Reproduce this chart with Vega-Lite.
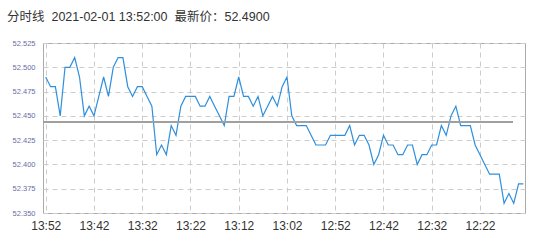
{
  "$schema": "https://vega.github.io/schema/vega-lite/v6.json",
  "width": 482,
  "height": 170,
  "autosize": {"type": "none"},
  "padding": {"left": 43, "top": 43, "right": 20, "bottom": 32},
  "background": "#ffffff",
  "title": {
    "text": "分时线\u00a0\u00a02021-02-01 13:52:00\u00a0\u00a0最新价：52.4900",
    "anchor": "start",
    "frame": "group",
    "dx": -36,
    "offset": 16,
    "fontSize": 12.5,
    "fontWeight": "normal",
    "color": "#333333",
    "font": "Liberation Sans, Noto Sans CJK SC"
  },
  "config": {
    "view": {"stroke": "#aaaaaa", "strokeWidth": 1},
    "axis": {"domain": false, "ticks": false, "grid": true, "gridColor": "#cccccc", "gridDash": [5, 4], "gridWidth": 1, "labelOverlap": false}
  },
  "data": {
    "values": [
      {"time": "2021-02-01 13:52", "price": 52.49},
      {"time": "2021-02-01 13:51", "price": 52.48},
      {"time": "2021-02-01 13:50", "price": 52.48},
      {"time": "2021-02-01 13:49", "price": 52.45},
      {"time": "2021-02-01 13:48", "price": 52.50},
      {"time": "2021-02-01 13:47", "price": 52.50},
      {"time": "2021-02-01 13:46", "price": 52.51},
      {"time": "2021-02-01 13:45", "price": 52.49},
      {"time": "2021-02-01 13:44", "price": 52.45},
      {"time": "2021-02-01 13:43", "price": 52.46},
      {"time": "2021-02-01 13:42", "price": 52.45},
      {"time": "2021-02-01 13:41", "price": 52.47},
      {"time": "2021-02-01 13:40", "price": 52.49},
      {"time": "2021-02-01 13:39", "price": 52.47},
      {"time": "2021-02-01 13:38", "price": 52.50},
      {"time": "2021-02-01 13:37", "price": 52.51},
      {"time": "2021-02-01 13:36", "price": 52.51},
      {"time": "2021-02-01 13:35", "price": 52.48},
      {"time": "2021-02-01 13:34", "price": 52.47},
      {"time": "2021-02-01 13:33", "price": 52.48},
      {"time": "2021-02-01 13:32", "price": 52.48},
      {"time": "2021-02-01 13:31", "price": 52.47},
      {"time": "2021-02-01 13:30", "price": 52.46},
      {"time": "2021-02-01 13:29", "price": 52.41},
      {"time": "2021-02-01 13:28", "price": 52.42},
      {"time": "2021-02-01 13:27", "price": 52.41},
      {"time": "2021-02-01 13:26", "price": 52.44},
      {"time": "2021-02-01 13:25", "price": 52.43},
      {"time": "2021-02-01 13:24", "price": 52.46},
      {"time": "2021-02-01 13:23", "price": 52.47},
      {"time": "2021-02-01 13:22", "price": 52.47},
      {"time": "2021-02-01 13:21", "price": 52.47},
      {"time": "2021-02-01 13:20", "price": 52.46},
      {"time": "2021-02-01 13:19", "price": 52.46},
      {"time": "2021-02-01 13:18", "price": 52.47},
      {"time": "2021-02-01 13:17", "price": 52.46},
      {"time": "2021-02-01 13:16", "price": 52.45},
      {"time": "2021-02-01 13:15", "price": 52.44},
      {"time": "2021-02-01 13:14", "price": 52.47},
      {"time": "2021-02-01 13:13", "price": 52.47},
      {"time": "2021-02-01 13:12", "price": 52.49},
      {"time": "2021-02-01 13:11", "price": 52.47},
      {"time": "2021-02-01 13:10", "price": 52.47},
      {"time": "2021-02-01 13:09", "price": 52.46},
      {"time": "2021-02-01 13:08", "price": 52.47},
      {"time": "2021-02-01 13:07", "price": 52.45},
      {"time": "2021-02-01 13:06", "price": 52.46},
      {"time": "2021-02-01 13:05", "price": 52.47},
      {"time": "2021-02-01 13:04", "price": 52.46},
      {"time": "2021-02-01 13:03", "price": 52.48},
      {"time": "2021-02-01 13:02", "price": 52.49},
      {"time": "2021-02-01 13:01", "price": 52.45},
      {"time": "2021-02-01 13:00", "price": 52.44},
      {"time": "2021-02-01 12:59", "price": 52.44},
      {"time": "2021-02-01 12:58", "price": 52.44},
      {"time": "2021-02-01 12:57", "price": 52.43},
      {"time": "2021-02-01 12:56", "price": 52.42},
      {"time": "2021-02-01 12:55", "price": 52.42},
      {"time": "2021-02-01 12:54", "price": 52.42},
      {"time": "2021-02-01 12:53", "price": 52.43},
      {"time": "2021-02-01 12:52", "price": 52.43},
      {"time": "2021-02-01 12:51", "price": 52.43},
      {"time": "2021-02-01 12:50", "price": 52.43},
      {"time": "2021-02-01 12:49", "price": 52.44},
      {"time": "2021-02-01 12:48", "price": 52.42},
      {"time": "2021-02-01 12:47", "price": 52.43},
      {"time": "2021-02-01 12:46", "price": 52.43},
      {"time": "2021-02-01 12:45", "price": 52.42},
      {"time": "2021-02-01 12:44", "price": 52.40},
      {"time": "2021-02-01 12:43", "price": 52.41},
      {"time": "2021-02-01 12:42", "price": 52.43},
      {"time": "2021-02-01 12:41", "price": 52.42},
      {"time": "2021-02-01 12:40", "price": 52.42},
      {"time": "2021-02-01 12:39", "price": 52.41},
      {"time": "2021-02-01 12:38", "price": 52.41},
      {"time": "2021-02-01 12:37", "price": 52.42},
      {"time": "2021-02-01 12:36", "price": 52.42},
      {"time": "2021-02-01 12:35", "price": 52.40},
      {"time": "2021-02-01 12:34", "price": 52.41},
      {"time": "2021-02-01 12:33", "price": 52.41},
      {"time": "2021-02-01 12:32", "price": 52.42},
      {"time": "2021-02-01 12:31", "price": 52.42},
      {"time": "2021-02-01 12:30", "price": 52.44},
      {"time": "2021-02-01 12:29", "price": 52.43},
      {"time": "2021-02-01 12:28", "price": 52.45},
      {"time": "2021-02-01 12:27", "price": 52.46},
      {"time": "2021-02-01 12:26", "price": 52.44},
      {"time": "2021-02-01 12:25", "price": 52.44},
      {"time": "2021-02-01 12:24", "price": 52.44},
      {"time": "2021-02-01 12:23", "price": 52.42},
      {"time": "2021-02-01 12:22", "price": 52.41},
      {"time": "2021-02-01 12:21", "price": 52.40},
      {"time": "2021-02-01 12:20", "price": 52.39},
      {"time": "2021-02-01 12:19", "price": 52.39},
      {"time": "2021-02-01 12:18", "price": 52.39},
      {"time": "2021-02-01 12:17", "price": 52.36},
      {"time": "2021-02-01 12:16", "price": 52.37},
      {"time": "2021-02-01 12:15", "price": 52.36},
      {"time": "2021-02-01 12:14", "price": 52.38},
      {"time": "2021-02-01 12:13", "price": 52.38}
    ]
  },
  "layer": [
    {
      "mark": {"type": "line", "color": "#2f8fdc", "strokeWidth": 1.2, "clip": true},
      "encoding": {
        "x": {
          "field": "time",
          "type": "temporal",
          "scale": {
            "domain": [
              {"year": 2021, "month": 2, "date": 1, "hours": 12, "minutes": 12, "seconds": 40},
              {"year": 2021, "month": 2, "date": 1, "hours": 13, "minutes": 52, "seconds": 34}
            ],
            "reverse": true
          },
          "axis": {
            "title": null,
            "grid": true,
            "tickCount": 20,
            "format": "%H:%M",
            "values": [
              {"year": 2021, "month": 2, "date": 1, "hours": 13, "minutes": 52},
              {"year": 2021, "month": 2, "date": 1, "hours": 13, "minutes": 42},
              {"year": 2021, "month": 2, "date": 1, "hours": 13, "minutes": 32},
              {"year": 2021, "month": 2, "date": 1, "hours": 13, "minutes": 22},
              {"year": 2021, "month": 2, "date": 1, "hours": 13, "minutes": 12},
              {"year": 2021, "month": 2, "date": 1, "hours": 13, "minutes": 2},
              {"year": 2021, "month": 2, "date": 1, "hours": 12, "minutes": 52},
              {"year": 2021, "month": 2, "date": 1, "hours": 12, "minutes": 42},
              {"year": 2021, "month": 2, "date": 1, "hours": 12, "minutes": 32},
              {"year": 2021, "month": 2, "date": 1, "hours": 12, "minutes": 22}
            ],
            "labelFontSize": 12,
            "labelColor": "#333333",
            "labelFont": "Liberation Sans",
            "labelPadding": 7,
            "labelFlush": false,
            "labelOverlap": false
          }
        },
        "y": {
          "field": "price",
          "type": "quantitative",
          "scale": {"domain": [52.35, 52.525], "nice": false, "zero": false},
          "axis": {
            "title": null,
            "grid": true,
            "tickCount": 20,
            "values": [52.35, 52.375, 52.4, 52.425, 52.45, 52.475, 52.5, 52.525],
            "format": ".3f",
            "labelFontSize": 7.5,
            "labelColor": "#6b6ba8",
            "labelFont": "Liberation Sans",
            "labelPadding": 8,
            "labelOverlap": false
          }
        }
      }
    },
    {
      "mark": {"type": "rule", "color": "#a0a0a0", "strokeWidth": 1.3},
      "encoding": {
        "x": {"datum": {"year": 2021, "month": 2, "date": 1, "hours": 13, "minutes": 52, "seconds": 34}, "type": "temporal"},
        "x2": {"datum": {"year": 2021, "month": 2, "date": 1, "hours": 12, "minutes": 15, "seconds": 10}},
        "y": {"datum": 52.444, "type": "quantitative"}
      }
    }
  ]
}
